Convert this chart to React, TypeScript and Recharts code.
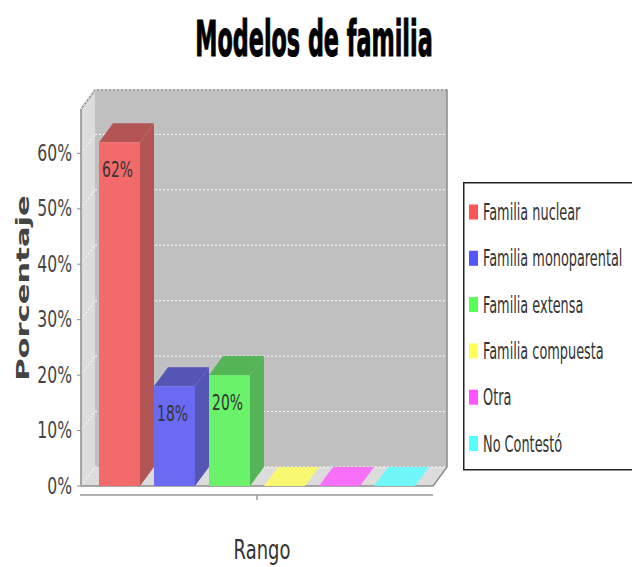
import React from 'react';
import { BarChart, Bar, XAxis, YAxis, CartesianGrid, Legend } from 'recharts';

// ---- data ----
const categories = [
  'Familia nuclear',
  'Familia monoparental',
  'Familia extensa',
  'Familia compuesta',
  'Otra',
  'No Contestó',
];
const seriesKeys = ['nuclear', 'monoparental', 'extensa', 'compuesta', 'otra', 'noContesto'];
const values = [62, 18, 20, 0, 0, 0];
const yTicks = [0, 10, 20, 30, 40, 50, 60];
const axisCategory = [''];
const xAxisTitle = 'Rango';
const yAxisTitle = 'Porcentaje';
const chartTitle = 'Modelos de familia';

// ---- styles ----
const legendColors = ['#ff5555', '#5555ff', '#55ff55', '#ffff55', '#ff55ff', '#55ffff'];
const frontColors = ['#f26a6a', '#6a6af2', '#6af26a', '#f8f870', '#f870f8', '#70f8f8'];
const sideColors = ['#b45555', '#5555b4', '#55b455', '#c6c655', '#c655c6', '#55c6c6'];
const DX = 14;
const DY = 19;
const FONT = '"DejaVu Sans", sans-serif';

const data = axisCategory.map((c) => {
  const row: Record<string, any> = { cat: c };
  seriesKeys.forEach((k, i) => (row[k] = values[i]));
  return row;
});

const makeShape = (i: number) => (props: any) => {
  const { x, y, width, height, value } = props;
  if (x == null || y == null) return <g />;
  const h = Math.max(0, height || 0);
  const v = Array.isArray(value) ? value[1] - value[0] : value;
  if (h < 0.5) {
    return (
      <polygon
        points={`${x},${y + h} ${x + width},${y + h} ${x + width + DX},${y + h - DY} ${x + DX},${y + h - DY}`}
        fill={frontColors[i]}
      />
    );
  }
  return (
    <g>
      <polygon
        points={`${x + width},${y} ${x + width + DX},${y - DY} ${x + width + DX},${y + h - DY} ${x + width},${y + h}`}
        fill={sideColors[i]}
      />
      <polygon
        points={`${x},${y} ${x + width},${y} ${x + width + DX},${y - DY} ${x + DX},${y - DY}`}
        fill={sideColors[i]}
      />
      <rect x={x} y={y} width={width} height={h} fill={frontColors[i]} />
      {v > 0 && (
        <text
          transform={`translate(${x + width / 2 - 2},${y + 27}) scale(0.63,1)`}
          textAnchor="middle"
          dominantBaseline="central"
          fontFamily={FONT}
          fontSize={22}
          fill="#333"
        >
          {`${v}%`}
        </text>
      )}
    </g>
  );
};

const gridLine = (p: any) => {
  const { x1, y1, x2, index } = p;
  const lines = (
    <g>
      <line x1={x1 + DX} y1={y1 - DY} x2={x2 + DX} y2={y1 - DY} stroke="#ffffff" strokeDasharray="2 2" strokeWidth={1} />
      <line x1={x1} y1={y1} x2={x1 + DX} y2={y1 - DY} stroke="#ffffff" strokeDasharray="2 2" strokeWidth={1} />
    </g>
  );
  if (index !== 0) return lines;
  const gx = p.x ?? x1;
  const gw = p.width ?? x2 - x1;
  const gy = p.y;
  const gh = p.height;
  const b = gy + gh;
  return (
    <g>
      <rect x={gx + DX} y={gy - DY} width={gw} height={gh} fill="#c0c0c0" />
      <polygon points={`${gx},${gy} ${gx + DX},${gy - DY} ${gx + DX},${b - DY} ${gx},${b}`} fill="#dcdcdc" />
      <polygon points={`${gx},${b} ${gx + gw},${b} ${gx + gw + DX},${b - DY} ${gx + DX},${b - DY}`} fill="#dcdcdc" />
      <path
        d={`M${gx},${gy} L${gx + DX},${gy - DY} L${gx + gw + DX},${gy - DY} L${gx + gw + DX},${b - DY} L${gx + gw},${b} L${gx},${b}`}
        fill="none"
        stroke="#8c8c8c"
        strokeWidth={1.5}
      />
      <path d={`M${gx - 1},${b + 9} H${gx + gw} M${gx + gw / 2},${b + 9} V${b + 14}`} stroke="#9a9a9a" strokeWidth={1.5} fill="none" />
      {lines}
    </g>
  );
};

const YTick = (props: any) => {
  const { x, y, payload } = props;
  return (
    <text
      transform={`translate(${x},${y}) scale(0.68,1)`}
      textAnchor="end"
      dominantBaseline="central"
      fontFamily={FONT}
      fontSize={23}
      fill="#444"
    >
      {`${payload.value}%`}
    </text>
  );
};

const YLabel = (props: any) => {
  const vb = props.viewBox || { x: 21, y: 109, width: 60, height: 377 };
  const cy = vb.y + vb.height / 2 - DY / 2;
  return (
    <text
      transform={`translate(${vb.x + 8},${cy}) rotate(-90) scale(1.7,1)`}
      textAnchor="middle"
      fontFamily={FONT}
      fontWeight="bold"
      fontSize={18}
      fill="#444"
    >
      {yAxisTitle}
    </text>
  );
};

const XLabel = (props: any) => {
  const vb = props.viewBox || { x: 81, y: 486, width: 352, height: 30 };
  const cx = vb.x + vb.width / 2 + DX / 2 - 2;
  return (
    <text
      transform={`translate(${cx},${vb.y + 73}) scale(0.69,1)`}
      textAnchor="middle"
      fontFamily={FONT}
      fontSize={26}
      fill="#333"
    >
      {xAxisTitle}
    </text>
  );
};

const renderLegend = (props: any) => {
  const raw: any[] = props.payload && props.payload.length ? props.payload : categories.map((c, i) => ({ value: c, color: legendColors[i] }));
  const payload = [...raw].sort((a, b) => categories.indexOf(a.value) - categories.indexOf(b.value));
  return (
    <svg width={169} height={290} style={{ display: 'block' }}>
      <rect x={0.75} y={0.75} width={200} height={287} fill="#ffffff" stroke="#222" strokeWidth={1.5} />
      {payload.map((p, i) => {
        const cy = 30 + i * 46.3;
        return (
          <g key={i}>
            <rect x={6} y={cy - 7.5} width={9} height={15} fill={p.color} />
            <text
              transform={`translate(20,${cy}) scale(0.56,1)`}
              dominantBaseline="central"
              fontFamily={FONT}
              fontSize={23}
              fill="#333"
            >
              {p.value}
            </text>
          </g>
        );
      })}
    </svg>
  );
};

export default function App() {
  return (
    <div style={{ position: 'absolute', left: 0, top: 0, width: 632, height: 567, overflow: 'hidden', background: '#fff' }}>
      <svg width={632} height={80} style={{ position: 'absolute', left: 0, top: 0 }}>
        <text
          transform="translate(314,56) scale(0.446,1)"
          textAnchor="middle"
          fontFamily={FONT}
          fontWeight="bold"
          fontSize={50}
          fill="#000"
          stroke="#000"
          strokeWidth={1.2}
        >
          {chartTitle}
        </text>
      </svg>
      <div style={{ position: 'absolute', left: 0, top: 0 }}>
        <BarChart
          width={632}
          height={567}
          data={data}
          margin={{ top: 109, right: 199, bottom: 51, left: 21 }}
          barGap={14}
        >
          <CartesianGrid vertical={false} horizontal={gridLine} />
          <XAxis
            dataKey="cat"
            height={30}
            tick={false}
            tickLine={false}
            axisLine={false}
            label={{ content: XLabel }}
          />
          <YAxis
            width={60}
            domain={[0, 68]}
            ticks={yTicks}
            interval={0}
            tickSize={4}
            tickMargin={5}
            tick={YTick}
            axisLine={{ stroke: '#8c8c8c', strokeWidth: 1.5 }}
            tickLine={{ stroke: '#8c8c8c', strokeWidth: 1 }}
            label={{ content: YLabel }}
          />
          <Legend
            layout="vertical"
            align="center"
            verticalAlign="middle"
            itemSorter={null as any}
            content={renderLegend}
            wrapperStyle={{ left: 463, top: 182, width: 169, height: 290 }}
          />
          {seriesKeys.map((k, i) => (
            <Bar
              key={k}
              dataKey={k}
              name={categories[i]}
              fill={legendColors[i]}
              barSize={41}
              isAnimationActive={false}
              shape={makeShape(i)}
            />
          ))}
        </BarChart>
      </div>
    </div>
  );
}
